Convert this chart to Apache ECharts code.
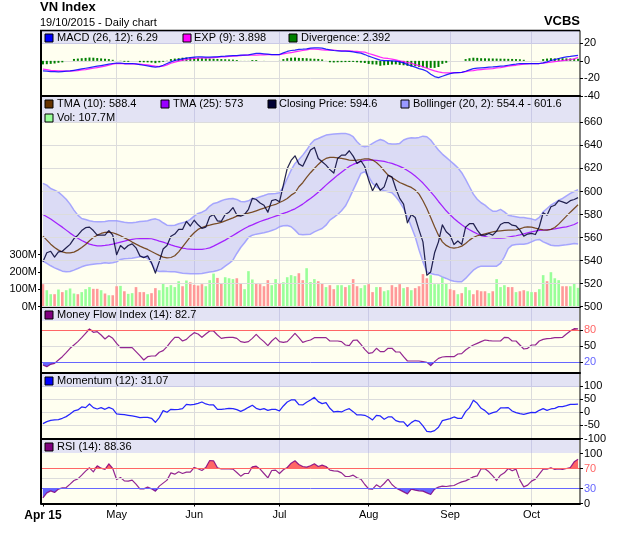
<!DOCTYPE html>
<html lang="en">
<head>
    <meta charset="UTF-8">
    <title>VN Index</title>
    <style>
        html,body{margin:0;padding:0;background:#fff;}
        #main{width:620px;height:535px;}
    </style>
</head>
<body>
    <div id="main"></div>
    <script src="https://cdn.jsdelivr.net/npm/echarts@6/dist/echarts.min.js"></script>
    <script>
        // month tick positions on the daily axis
        var tickIndex = [0, 19, 39, 61, 84, 105, 126];
        var tickLabels = ['Apr 15', 'May', 'Jun', 'Jul', 'Aug', 'Sep', 'Oct'];
        var priceTicks = [500, 520, 540, 560, 580, 600, 620, 640, 660];
        var volumeTicks = [0, 100, 200, 300];
        var mfiTicks = [20, 50, 80];
        var rsiTicks = [0, 30, 70, 100];

        var closePrice = [539,546.7,548,543,547.5,548,551,554,559,562,
            566,568.5,569,566,562,562,562,566,562,545,
            553,550,553,554.5,551,544,542.5,544,538,529,
            539,550,553,561,563,567,567,574,570,575,
            571,568,569,578,580,574.5,574,580,582,586,
            579.5,578.5,580,584.5,594,593,590,588,582,592,
            593,591,605.5,620,627,631,624,622,629,636,
            638.3,628.7,625.8,622.9,619,616,628.7,631.6,631.6,635.4,
            630.7,624.4,626.7,621.5,609.9,600.6,607,601,604,614,
            612.8,602.6,594,589,572.8,580,577.4,566.4,556.2,527.2,
            530,546.7,556.2,571,565,562,553.9,557,554,569,
            572,572,566.4,562,562,563.5,562,565.5,571.3,573,
            573,570.7,570,566.4,561.2,563,563.5,562.6,569.3,581.5,
            579.4,586.7,588,592,591,589.6,592,593,594.6];
        var tma10 = [561.2,557.7,554.2,551.3,549,547.5,546.7,546.7,547.3,549,
            551.3,553.9,557.1,560,562,563.5,564.4,564.6,564.1,562.9,
            561.5,559.7,558,556,554.2,552.5,551,549.6,547.8,546.1,
            544.4,542.9,542.3,542.6,544.1,547.5,551.9,556.2,560.6,564.1,
            567,568.7,569.9,570.7,571.6,572.2,573.1,574.5,575.7,577.1,
            578.6,579.4,580.3,581.2,582,583.2,584.4,585.5,586.7,587.8,
            588.7,590.4,591.9,593.9,596.8,598.9,604.1,607.6,612.2,616.3,
            620,623.5,626.7,628.7,629.6,629.6,629.3,628.7,628.1,627.3,
            627,627.3,627.8,628.4,628.4,627.3,625.2,622,618,614.2,
            612.2,609.9,607.8,606.4,604.9,603.5,601.2,597.7,591.9,585.2,
            577.4,569.3,562,556.2,553.1,551.3,550.7,551.3,552.5,554.8,
            557.7,560,561.5,562.3,563.2,564.1,564.9,565.5,565.8,566.1,
            566.4,566.4,566.7,567.5,568.7,569.3,569,568.1,567.3,566.7,
            566.4,567,568.7,571.6,575.1,578.6,582,585.2,588.4];
        var tma25 = [580,578,576,573.6,571.3,569,566.4,563.8,561.5,559.4,
            557.4,555.7,554.2,553.3,552.8,552.8,553.1,553.6,554.2,555.1,
            556,556.8,557.7,558.3,558.9,559.1,559.1,559.1,558.9,558,
            556.8,556,554.8,553.6,552.5,551.6,550.7,550.2,549.9,549.6,
            549.6,549.6,550.2,551,552.5,554.2,556,557.7,559.7,561.7,
            563.8,565.8,567.8,569.6,571,572.5,573.9,575.1,576.2,577.4,
            578.6,579.7,580.9,582,583.5,584.9,587,589,591.6,593.9,
            596.5,599.4,602.3,605.5,608.4,611.3,614.2,616.8,619.4,621.8,
            623.5,624.9,626.1,627,627.3,627.3,627,626.7,626.1,625.2,
            624.4,623.2,621.8,620.3,618.3,616,613.4,610.5,607.3,603.5,
            599.7,595.7,591.3,587.3,583.2,579.7,576.5,573.6,571,568.7,
            566.7,564.9,563.2,561.7,560.9,560,559.7,559.4,559.4,559.7,
            560.3,560.9,561.5,562.3,563.2,564.1,564.9,565.5,566.1,566.4,
            566.7,567,567.5,568.1,568.7,569.3,570.2,571.3,573];
        var bollUpper = [607,605.5,602.6,601.2,599.4,596.5,593.3,589,583.8,579.4,
            576.5,575.7,574.5,573.9,573.6,573.6,573.9,574.5,574.5,574.5,
            573.9,573.3,572.8,572.8,573.3,573.9,574.2,574.5,575.7,576.2,
            575.1,572.8,570.7,570.4,570.7,571.9,572.8,573.6,575.7,578.6,
            580.9,582,583.8,587.3,589.6,590.4,591.9,593.1,593.6,593.9,
            593.1,591.3,591,591.9,593.9,594.2,595.4,596.5,597.7,598,
            598.3,598.9,604.1,611.3,618.6,624.4,627.8,631.6,636,641.2,
            644.7,646.1,647.6,649,649.6,649.9,650.2,650.5,650.5,649.6,
            647.6,643.2,640,638.9,639.7,641.8,643.8,645.2,644.1,641.8,
            641.2,641.2,641.8,644.7,646.1,646.7,646.4,647,648.1,647.6,
            644.7,640.3,636,632.5,629.6,626.7,623.8,620.6,616.3,610.5,
            604.1,597.7,593.3,590.2,588.1,585.2,582.9,582.9,584.4,582.3,
            579.4,578.6,578,577.4,577.4,576.8,576.2,575.1,577.4,582.3,
            585.2,588.1,590.2,592.5,593.9,596.2,598.3,600,601.6];
        var bollLower = [539.4,537.4,535.4,533.6,532.2,530.7,530.2,530.4,531.6,533,
            534.5,535.7,536.2,536.8,537.1,537.4,538,537.7,538,538.8,
            540.9,541.5,541.7,542,542.6,543.2,543.2,542,537.4,531.6,
            530.4,530.7,530.4,530.2,530.2,529.6,529,528.7,528.4,528.4,
            528.4,528.7,529.3,529.9,530.4,531.3,532.5,535.1,537.4,540.3,
            546.1,551.3,555.4,560,562,562.9,563.5,564.1,564.9,566.1,
            567.3,569.3,570.2,570.4,569.3,566.4,562.9,562.3,562.6,562.9,
            564.9,566.4,567.8,570.7,575.1,577.4,580,583.2,587.3,593.9,
            601.2,608.4,615.7,617.1,612.8,607,604.1,601.8,600.6,599.7,
            598.9,595.4,591,585.2,578,569.3,560.6,549,538.8,530.2,
            528.7,527.8,527.3,525.8,524.4,522.9,522,521.5,521.5,524.4,
            528.1,531.6,533.9,535.1,535.1,535.1,535.1,535.1,537.4,543.2,
            550.4,553.3,553.9,554.2,554.2,554.8,556.2,557.7,558.3,556.2,
            554.8,553.3,552.8,552.8,553.3,553.6,554.2,554.8,554.4];
        var volume = [129,94,71,71,98,83,94,104,75,71,
            83,100,112,102,102,94,75,65,65,117,
            119,88,73,77,112,83,83,71,77,106,
            94,131,112,123,112,146,117,150,140,125,
            121,129,117,152,190,165,135,169,163,158,
            163,135,100,204,156,135,129,117,152,123,
            158,135,140,169,181,175,192,152,221,141,
            158,146,135,112,123,100,123,123,112,123,
            158,117,106,123,129,83,112,112,88,94,
            123,112,129,106,112,94,106,117,187,163,
            181,129,129,169,135,100,94,71,77,112,
            94,71,94,88,88,77,88,158,112,123,
            112,112,83,88,94,88,83,83,100,181,
            146,198,163,152,117,117,117,135,107.7];
        var volumeUp = [0,1,1,0,1,0,1,1,1,0,
            1,1,1,0,0,1,0,1,0,0,
            1,0,1,1,0,0,0,1,0,0,
            1,1,1,1,1,1,0,1,0,0,
            0,0,1,1,1,0,0,1,1,1,
            0,0,1,1,1,0,0,0,0,1,
            1,0,1,1,1,1,0,0,1,1,
            1,0,0,1,0,0,1,1,0,1,
            0,0,1,1,0,0,1,0,1,1,
            0,0,0,1,0,1,0,0,0,0,
            1,1,1,1,1,0,0,1,0,1,
            1,0,0,0,0,1,0,1,1,1,
            0,0,1,0,0,1,1,0,1,1,
            0,1,1,1,0,0,1,1,1];
        var macd = [-11.4,-11.8,-12.2,-12.2,-12.6,-12.2,-11.8,-11.4,-10.7,-9.9,
            -9.1,-8.4,-7.6,-6.9,-6.1,-5.3,-4.6,-3.8,-3,-2.7,
            -2.7,-3,-3,-3,-3.4,-4.2,-5,-5.7,-6.5,-7.2,
            -6.5,-5,-3,-1.1,0.4,1.5,2.3,3,3.8,4.2,
            4.6,4.6,4.2,4.2,4.6,4.6,5,5.3,5.7,6.1,
            6.1,6.5,6.5,6.9,7.6,8.4,8.4,8,7.6,7.2,
            7.2,7.2,9.1,10.7,11.8,12.2,13,13.3,13.7,14.5,
            14.9,14.9,14.5,13.3,12.6,11.8,11.4,11,11,10.7,
            10.3,9.5,8.8,7.2,5.3,3.8,2.3,0.8,0.4,0.4,
            0,-0.4,-1.1,-2.3,-4.2,-5.7,-7.2,-8.8,-9.9,-11.8,
            -15.2,-17.9,-19,-17.5,-16,-14.5,-13.7,-13.3,-13,-11.8,
            -10.3,-8.8,-8.4,-8,-7.6,-7.2,-6.9,-6.5,-6.1,-5.7,
            -5,-4.2,-3.8,-3,-3,-3,-3,-3,-3,-2.3,
            -1.1,0.4,1.5,2.7,3.8,4.6,5,5.7,6.29];
        var macdExp = [-9.5,-9.9,-10.7,-11,-11.4,-11.4,-11.8,-11.8,-11.4,-11,
            -10.3,-9.9,-9.1,-8.4,-7.6,-6.9,-6.1,-5,-3.8,-3,
            -3,-3.4,-3.4,-3.4,-3.8,-3.8,-4.2,-4.6,-5.3,-6.1,
            -6.5,-6.1,-4.6,-2.7,-1.5,-0.4,0.8,1.5,2.3,2.7,
            3,3.4,3.4,3.4,3.8,4.2,4.6,4.6,5,5.3,
            5.7,6.1,6.5,6.5,6.5,6.5,6.9,6.9,7.2,7.2,
            7.2,7.2,8,8.8,9.5,10.3,11,11.8,12.6,13.3,
            13.3,13,12.6,12.2,12.2,12.2,11.8,11.4,11.4,11.4,
            11,10.7,10.3,9.9,8.4,7.2,5.7,4.2,3,2.7,
            1.9,1.1,0,-0.8,-1.9,-2.7,-4.2,-5.3,-6.9,-8.4,
            -9.9,-11.4,-12.6,-13.3,-13.7,-13.7,-13.3,-13.3,-13,-12.2,
            -11.4,-11,-10.3,-9.9,-9.5,-9.1,-8.8,-8,-7.6,-6.9,
            -6.1,-5.3,-5,-4.2,-3.8,-3.4,-3,-3,-3,-2.7,
            -1.9,-1.5,-0.8,-0.4,0.4,0.8,1.5,2.3,3.898];
        var divergence = [-4,-3.8,-3.4,-3,-2.2,-1.7,0,0,2.2,2.6,
            3,3.4,3.8,3.6,3.2,2.8,2.4,2,1.2,0,
            0.2,-1,-1,0,0,-1.5,-1.6,-1.7,-2,-2.6,
            -1.8,-1,0.2,2,2.6,3,3.6,3.8,3.8,3.8,
            3.4,3,2.8,2.6,2.4,2.2,2,1.8,1.6,1.4,
            1,0.1,0.1,0.1,1,1,0,0.1,0,0,
            0,0.1,2,3,3.6,3.8,3.4,3.2,3,2.6,
            2.4,2.2,1.6,0.1,-1.6,-1.8,-1.6,-1.5,-1.4,-1.3,
            -1.2,-1.6,-2,-2.4,-3.5,-4,-4.2,-5.6,-5,-4.6,
            -4.2,-4,-4.6,-5,-5.6,-6.4,-6,-6.8,-7.2,-8,
            -8,-8,-7,-3.4,-2.2,0,0,0,0,2,
            3,3.6,3.4,3,2.9,2.8,2.7,2.6,2.5,2.4,
            2.3,2.2,2,1.8,1.2,0,0,0,0,2,
            2.6,3,2.8,2.9,3,2.8,2.7,2.5,2.392];
        var moneyFlow = [15,11.9,16.3,18.1,24.4,30.6,38.1,46.3,52.5,58.8,
            66.3,74.4,82.5,76.3,77.5,71.3,63.8,70,65,55.6,
            47.5,47.5,47.5,47.5,40,32.5,24.4,30.6,31.9,31.9,
            38.8,41.9,49.4,58.8,66.9,66.9,60,63.1,70,75.6,
            73.1,66.9,73.1,78.8,78.8,71.3,65,66.3,66.9,66.9,
            65,58.8,57.5,58.8,65,72.5,65,58.8,51.3,60,
            66.3,58.8,57.5,58.8,66.3,74.4,66.3,57.5,60,61.9,
            66.3,66.3,66.3,66.3,60,60,60,58.8,52.5,51.3,
            61.3,61.9,53.8,44.4,36.9,38.1,46.3,40,40,46.3,
            46.3,39.4,39.4,30.6,22.5,22.5,22.5,22.5,21.3,20,
            13.8,21.3,27.5,30,30.6,30.6,30.6,35.6,36.3,43.1,
            48.1,52.5,55.6,58.8,61.9,60.6,60,60,60,66.9,
            66.3,60,60,52.5,45,46.3,52.5,52.5,60,63.1,
            64.4,65,66.3,66.3,66.9,73.1,78.8,83.1,82.7];
        var momentum = [-43.2,-35.6,-30.5,-29.2,-27.9,-22.9,-16.5,-6.4,5.1,8.9,
            20.3,17.8,31.8,17.8,12.7,17.8,11.4,19,12.7,-6.4,
            -7.6,-8.9,-11.4,-14,-16.5,-20.3,-19,-19,-22.9,-38.1,
            -20.3,6.4,0,11.4,10.2,11.4,14,30.5,27.9,30.5,
            34.3,39.4,31.8,27.9,27.9,11.4,11.4,12.7,15.2,14,
            10.2,3.8,10.2,19,26.7,15.2,10.2,14,7.6,11.4,
            11.4,5.1,24.1,39.4,47,47,29.2,27.9,38.1,47,
            57.2,40.6,33,36.8,15.2,1.3,3.8,1.3,8.9,14,
            2.5,-10.2,-10.2,-11.4,-19,-29.2,-11.4,-14,-26.7,-17.8,
            -17.8,-31.8,-36.8,-36.8,-53.3,-39.4,-30.5,-34.3,-52.1,-72.4,
            -74.9,-69.9,-57.2,-31.8,-27.9,-24.1,-17.8,-22.9,-22.9,2.5,
            17.8,45.7,34.3,15.2,6.4,-7.6,-1.3,2.5,16.5,16.5,
            17.8,5.1,-1.3,-5.1,-7.6,-3.8,0,-1.3,7.6,14,
            7.6,12.7,15.2,21.6,21.6,25.4,30.5,30.5,31.07];
        var rsi = [11.3,21.3,25.3,22,28.7,31.3,32,38.7,46,49.3,
            56.7,64.7,71.4,63.4,75.4,70.7,68,79.4,70,48,
            52,45.3,44.7,46.7,38.7,29.3,29.3,32.7,29.3,24.7,
            34.7,40.7,46.7,61.3,58.7,63.4,60,62.7,62.7,72,
            69.4,66,72,86,85.4,71.4,69.4,69.4,69.4,68.7,
            62,54.7,60,60,73.4,74.7,68.7,60,51.3,66,
            66.7,60,67.4,72,80.7,85.4,78,74,72.7,75.4,
            79.4,74,76.7,74,66.7,65.4,64.7,61.3,54,54,
            56.7,51.3,48.7,38,29.3,28.7,37.3,32.7,40,48.7,
            38,31.3,27.3,23.3,19.3,28.7,26.7,25.3,24.7,21.3,
            18,28.7,32.7,34.7,34,35.3,36,40,43.3,45.3,
            49.3,53.3,55.3,69.4,69.4,63.4,55.3,46,56.7,61.3,
            70,65.4,68.7,46.7,33.3,36.7,44.7,48.7,58.7,68.7,
            68.7,71.4,68,69.4,68,70,72,83.4,88.36];

        // legend strips: swatch colour, swatch x, text x, text y, text
        var legendItems = [
            ['#0000ff', 45, 57, 38, 'MACD (26, 12): 6.29'],
            ['#ff00ff', 183, 194, 38, 'EXP (9): 3.898'],
            ['#008000', 289, 301, 38, 'Divergence: 2.392'],
            ['#663300', 45, 57, 104, 'TMA (10): 588.4'],
            ['#9900ff', 161, 173, 104, 'TMA (25): 573'],
            ['#000033', 268, 279, 104, 'Closing Price: 594.6'],
            ['#9999ff', 401, 413, 104, 'Bollinger (20, 2): 554.4 - 601.6'],
            ['#99ff99', 45, 57, 118, 'Vol: 107.7M'],
            ['#800080', 45, 57, 315, 'Money Flow Index (14): 82.7'],
            ['#0000ff', 45, 57, 381, 'Momentum (12): 31.07'],
            ['#800080', 45, 57, 447, 'RSI (14): 88.36']
        ];
        // strip y and height per panel
        var strips = [[31, 13], [97, 26], [308, 13], [374, 13], [440, 13]];

        var fontName = '"Liberation Sans", Arial, sans-serif';
        var categories = closePrice.map(function(v, i){ return i; });

        var graphics = [];
        strips.forEach(function(s){
            graphics.push({type:'rect', z:1, silent:true, shape:{x:42, y:s[0], width:537, height:s[1]},
                style:{fill:'rgba(162,162,255,0.3)'}});
        });
        legendItems.forEach(function(it){
            graphics.push({type:'rect', z:10, silent:true, shape:{x:it[1], y:it[3]-4, width:8, height:8},
                style:{fill:it[0], stroke:'#000', lineWidth:1}});
            graphics.push({type:'text', z:10, silent:true, x:it[2], y:it[3],
                style:{text:it[4], fill:'#000', font:'11px ' + fontName, textVerticalAlign:'middle'}});
        });
        // frame around the panels
        [[41, 30.5, 41, 504, 2], [40, 30.5, 580, 30.5, 1.5], [580, 30.5, 580, 504, 1]].forEach(function(l){
            graphics.push({type:'line', z:11, silent:true, shape:{x1:l[0], y1:l[1], x2:l[2], y2:l[3]},
                style:{stroke:'#000', lineWidth:l[4]}});
        });

        var panels = [[31, 96], [96, 306.5], [306.5, 373], [373, 438.5], [438.5, 503.5]];
        var grids = panels.map(function(p){
            return {left:41, width:539, top:p[0], height:p[1]-p[0], show:true, backgroundColor:'#fffff0', borderWidth:0};
        });
        var xAxes = panels.map(function(p, n){
            var isLast = n == panels.length - 1;
            return {
                type:'category', gridIndex:n, data:categories, boundaryGap:true,
                axisLine:{onZero:false, lineStyle:{color:'#000', width:2}},
                axisTick:{show:isLast, alignWithLabel:true, length:3, lineStyle:{color:'#000'},
                    interval:function(i){ return tickIndex.indexOf(i) >= 0; }},
                axisLabel:{show:isLast, color:'#000', fontFamily:fontName, fontSize:11, margin:6,
                    interval:function(i){ return tickIndex.indexOf(i) >= 0; },
                    formatter:function(v, i){
                        var pos = tickIndex.indexOf(Number(v));
                        return pos == 0 ? '{b|' + tickLabels[0] + '}' : tickLabels[pos];
                    },
                    rich:{b:{fontWeight:'bold', fontSize:12, fontFamily:fontName, color:'#000'}}},
                splitLine:{show:true, alignWithLabel:true, lineStyle:{color:'#dcdcdc'},
                    interval:function(i){ return i > 0 && tickIndex.indexOf(i) >= 0; }}
            };
        });

        function yAxisBase(gridIndex, min, max, interval, customTicks){
            var axis = {
                type:'value', gridIndex:gridIndex, position:'right', min:min, max:max, interval:interval,
                axisLine:{show:false},
                axisTick:{show:true, length:3, lineStyle:{color:'#000'}},
                axisLabel:{color:'#000', fontFamily:fontName, fontSize:11, margin:4, showMaxLabel:false},
                splitLine:{show:true, lineStyle:{color:'#dcdcdc'}}
            };
            if (customTicks) {
                axis.axisTick.customValues = customTicks;
                axis.axisLabel.customValues = customTicks;
                axis.axisLabel.showMaxLabel = true;
                axis.splitLine.show = false;
            }
            return axis;
        }
        var mfiAxis = yAxisBase(2, 0, 124.7, 10, mfiTicks);
        mfiAxis.axisLabel.color = function(v){ return v == 80 ? '#ff6666' : v == 20 ? '#6666ff' : '#000'; };
        var rsiAxis = yAxisBase(4, 0, 130, 10, rsiTicks);
        rsiAxis.axisLabel.color = function(v){ return v == 70 ? '#ff6666' : v == 30 ? '#6666ff' : '#000'; };
        var volAxis = yAxisBase(1, 0, 1215, 100, volumeTicks);
        volAxis.position = 'left';
        volAxis.axisLabel.formatter = '{value}M';

        var yAxes = [
            yAxisBase(0, -40, 34, 20),
            yAxisBase(1, 500, 683, 20, priceTicks),
            volAxis,
            mfiAxis,
            yAxisBase(3, -100, 150, 50),
            rsiAxis
        ];

        function lineSeries(name, data, color, xi, yi, width){
            return {name:name, type:'line', data:data, xAxisIndex:xi, yAxisIndex:yi, showSymbol:false, silent:true,
                lineStyle:{color:color, width:width || 1.25, opacity:0.85, join:'round'}, itemStyle:{color:color}, animation:false};
        }
        function levelLines(levels){
            return {symbol:'none', silent:true, animation:false, label:{show:false},
                data:levels.map(function(l){
                    return {yAxis:l[0], lineStyle:{color:l[1], width:1, type:'solid'}};
                })};
        }
        function thresholdFill(name, data, level, above, color, xi, yi){
            return {name:name, type:'line', xAxisIndex:xi, yAxisIndex:yi, showSymbol:false, silent:true, animation:false,
                lineStyle:{width:0}, areaStyle:{color:color, opacity:1, origin:level},
                data:data.map(function(v){ return above ? Math.max(v, level) : Math.min(v, level); })};
        }

        var mfiLine = lineSeries('Money Flow Index', moneyFlow, '#800080', 2, 3, 1.2);
        mfiLine.markLine = levelLines([[80, '#ff6666'], [50, '#dcdcdc'], [20, '#6666ff']]);
        var rsiLine = lineSeries('RSI', rsi, '#800080', 4, 5, 1.2);
        rsiLine.markLine = levelLines([[70, '#ff6666'], [50, '#dcdcdc'], [30, '#6666ff']]);

        var series = [
            {name:'Divergence', type:'bar', data:divergence, xAxisIndex:0, yAxisIndex:0, barWidth:2, silent:true,
                itemStyle:{color:'#008000'}, animation:false},
            lineSeries('EXP', macdExp, '#ff00ff', 0, 0),
            lineSeries('MACD', macd, '#0000ff', 0, 0),
            {name:'lower', type:'line', stack:'band', data:bollLower, xAxisIndex:1, yAxisIndex:1, showSymbol:false, silent:true,
                lineStyle:{width:0}, animation:false,
                markLine:levelLines(priceTicks.map(function(t){ return [t, '#dcdcdc']; }))},
            {name:'band', type:'line', stack:'band', xAxisIndex:1, yAxisIndex:1, showSymbol:false, silent:true,
                data:bollUpper.map(function(v, i){ return v - bollLower[i]; }),
                lineStyle:{width:0}, areaStyle:{color:'#9999ff', opacity:0.35}, animation:false},
            lineSeries('Bollinger upper', bollUpper, '#9999ff', 1, 1, 1.5),
            lineSeries('Bollinger lower', bollLower, '#9999ff', 1, 1, 1.5),
            {name:'Vol', type:'bar', xAxisIndex:1, yAxisIndex:2, barWidth:2.6, silent:true, animation:false,
                data:volume.map(function(v, i){
                    return {value:v, itemStyle:{color:volumeUp[i] ? '#99ff99' : '#ff9999'}};
                })},
            lineSeries('TMA (25)', tma25, '#9900ff', 1, 1),
            lineSeries('TMA (10)', tma10, '#663300', 1, 1),
            lineSeries('Closing Price', closePrice, '#000033', 1, 1),
            thresholdFill('mfi high', moneyFlow, 80, true, '#ff6666', 2, 3),
            thresholdFill('mfi low', moneyFlow, 20, false, '#6666ff', 2, 3),
            mfiLine,
            lineSeries('Momentum', momentum, '#0000ff', 3, 4),
            thresholdFill('rsi high', rsi, 70, true, '#ff6666', 4, 5),
            thresholdFill('rsi low', rsi, 30, false, '#6666ff', 4, 5),
            rsiLine
        ];

        var chart = echarts.init(document.getElementById('main'));
        chart.setOption({
            animation:false,
            backgroundColor:'#fff',
            title:[
                {text:'VN Index', left:40, top:1, padding:0, textStyle:{fontFamily:fontName, fontSize:13, fontWeight:'bold', color:'#000'}},
                {text:'19/10/2015 - Daily chart', left:40, top:17, padding:0, textStyle:{fontFamily:fontName, fontSize:11, fontWeight:'normal', color:'#000'}},
                {text:'VCBS', right:40, top:15, padding:0, textStyle:{fontFamily:fontName, fontSize:13, fontWeight:'bold', color:'#000'}}
            ],
            grid:grids,
            xAxis:xAxes,
            yAxis:yAxes,
            series:series,
            graphic:graphics
        });
    </script>
</body>
</html>
